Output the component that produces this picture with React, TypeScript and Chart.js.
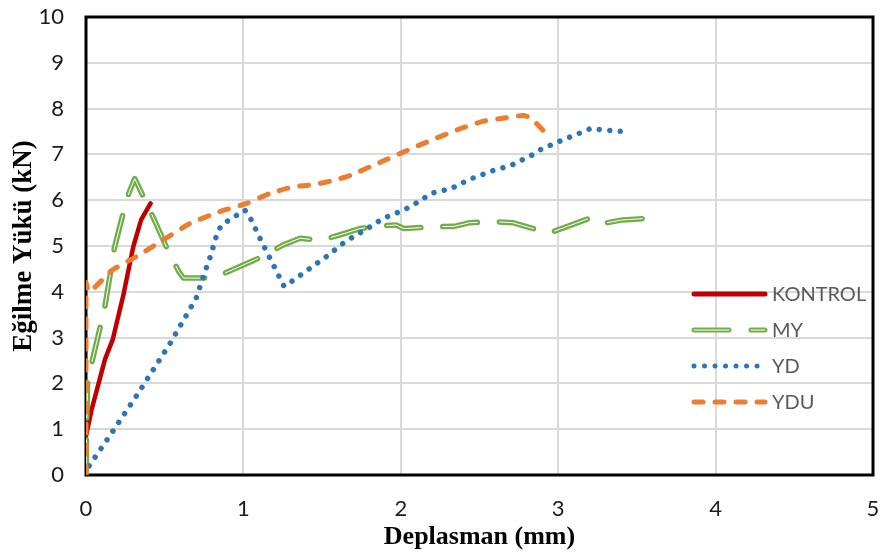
import React, { useEffect, useRef } from "react";
import { Chart, registerables } from "chart.js";

Chart.register(...registerables);

// ---- Data ----
const seriesNames = ["KONTROL", "MY", "YD", "YDU"];

const kontrolX = [0, 0.036, 0.08, 0.12, 0.17, 0.24, 0.3, 0.35, 0.41];
const kontrolY = [0.85, 1.43, 2.0, 2.52, 2.96, 3.97, 4.98, 5.57, 5.93];

const myX = [0, 0.005, 0.01, 0.03, 0.093, 0.12, 0.16, 0.18, 0.24, 0.275, 0.31, 0.375, 0.43, 0.53, 0.59, 0.62, 0.81, 0.93, 1.14, 1.25, 1.36, 1.49, 1.61, 1.74, 1.85, 1.97, 2.02, 2.22, 2.34, 2.44, 2.59, 2.71, 2.94, 3.06, 3.21, 3.28, 3.41, 3.55];
const myY = [0, 1.2, 2.0, 2.35, 3.27, 3.68, 4.51, 4.95, 5.77, 6.18, 6.47, 6.0, 5.6, 4.83, 4.44, 4.3, 4.3, 4.48, 4.8, 5.02, 5.17, 5.12, 5.24, 5.38, 5.43, 5.46, 5.38, 5.42, 5.43, 5.51, 5.53, 5.51, 5.28, 5.43, 5.62, 5.49, 5.57, 5.6];

const ydX = [0.02, 0.15, 0.34, 0.53, 0.7, 0.745, 0.79, 0.83, 0.86, 0.957, 1.01, 1.05, 1.105, 1.2, 1.258, 1.317, 1.43, 1.54, 1.645, 1.825, 1.885, 2.016, 2.13, 2.19, 2.317, 2.44, 2.58, 2.7, 2.83, 2.885, 3.01, 3.14, 3.21, 3.27, 3.41];
const ydY = [0.2, 0.85, 1.83, 2.85, 3.86, 4.33, 4.77, 5.24, 5.46, 5.67, 5.78, 5.57, 5.17, 4.52, 4.12, 4.25, 4.53, 4.8, 5.09, 5.46, 5.6, 5.78, 6.0, 6.15, 6.25, 6.46, 6.64, 6.76, 6.98, 7.1, 7.29, 7.47, 7.57, 7.54, 7.5];

const yduX = [0, 0, 0.02, 0.17, 0.32, 0.49, 0.66, 0.85, 1.02, 1.17, 1.317, 1.444, 1.57, 1.677, 1.825, 2.016, 2.186, 2.376, 2.52, 2.67, 2.78, 2.83, 2.93];
const yduY = [0, 4.2, 4.0, 4.48, 4.77, 5.13, 5.49, 5.75, 5.93, 6.15, 6.29, 6.34, 6.43, 6.54, 6.76, 7.05, 7.3, 7.56, 7.72, 7.8, 7.85, 7.78, 7.43];

const xMin = 0, xMax = 5, xStep = 1;
const yMin = 0, yMax = 10, yStep = 1;
const xTitle = "Deplasman (mm)";
const yTitle = "Eğilme Yükü (kN)";

const pts = (xs: number[], ys: number[]) => xs.map((x, i) => ({ x, y: ys[i] }));

const RED = "#c00000";
const GREEN = "#70ad47";
const BLUE = "#2e75b6";
const ORANGE = "#ed7d31";
const MY_DASH = [35, 22];
const YD_DASH = [0.01, 10.5];
const YDU_DASH = [9, 12];

const borderPlugin = {
  id: "plotBorder",
  beforeDatasetsDraw(chart: any) {
    const { ctx, chartArea: a } = chart;
    ctx.save();
    ctx.strokeStyle = "#000";
    ctx.lineWidth = 3;
    ctx.strokeRect(a.left, a.top, a.right - a.left, a.bottom - a.top);
    ctx.restore();
  },
};

const legendPlugin = {
  id: "insideLegend",
  afterDraw(chart: any) {
    const { ctx, chartArea: a } = chart;
    const x0 = a.right - 179;
    const x1 = a.right - 108;
    const tx = a.right - 101;
    const rows = [a.top + 277, a.top + 313, a.top + 349, a.top + 385];
    const styles = [
      { color: RED, dash: [] as number[], inner: false },
      { color: GREEN, dash: MY_DASH, inner: true },
      { color: BLUE, dash: YD_DASH, inner: false },
      { color: ORANGE, dash: YDU_DASH, inner: false },
    ];
    ctx.save();
    styles.forEach((s, i) => {
      const y = rows[i];
      ctx.beginPath();
      ctx.setLineDash(s.dash);
      ctx.lineCap = "round";
      ctx.strokeStyle = s.color;
      ctx.lineWidth = 5;
      ctx.moveTo(x0, y);
      ctx.lineTo(x1, y);
      ctx.stroke();
      if (s.inner) {
        ctx.beginPath();
        ctx.strokeStyle = "#ffffff";
        ctx.lineWidth = 1;
        ctx.moveTo(x0, y);
        ctx.lineTo(x1, y);
        ctx.stroke();
      }
      ctx.setLineDash([]);
      ctx.fillStyle = "#595959";
      ctx.font = "20px Lato";
      ctx.textBaseline = "middle";
      ctx.textAlign = "left";
      ctx.fillText(seriesNames[i], tx, y + 1);
    });
    ctx.restore();
  },
};

const zeroPad = (s: any) => {
  s.paddingTop = 0;
  s.paddingBottom = 0;
  s.paddingLeft = 0;
  s.paddingRight = 0;
};

export default function App() {
  const ref = useRef<HTMLCanvasElement | null>(null);

  useEffect(() => {
    if (!ref.current) return;
    const common = { showLine: true, pointRadius: 0, pointHoverRadius: 0, fill: false, tension: 0, borderCapStyle: "round", borderJoinStyle: "round" };
    const chart = new Chart(ref.current, {
      type: "scatter",
      data: {
        datasets: [
          { ...common, label: seriesNames[0], data: pts(kontrolX, kontrolY), borderColor: RED, backgroundColor: RED, borderWidth: 4.5, order: 10 } as any,
          { ...common, label: seriesNames[1], data: pts(myX, myY), borderColor: GREEN, backgroundColor: GREEN, borderWidth: 5.5, borderDash: MY_DASH, order: 9 } as any,
          { ...common, label: seriesNames[1] + "-inner", data: pts(myX, myY), borderColor: "#ffffff", backgroundColor: "#ffffff", borderWidth: 1, borderDash: MY_DASH, order: 8 } as any,
          { ...common, label: seriesNames[2], data: pts(ydX, ydY), borderColor: BLUE, backgroundColor: BLUE, borderWidth: 5.5, borderDash: YD_DASH, order: 7 } as any,
          { ...common, label: seriesNames[3], data: pts(yduX, yduY), borderColor: ORANGE, backgroundColor: ORANGE, borderWidth: 5, borderDash: YDU_DASH, order: 6, tension: 0.2 } as any,
        ],
      },
      options: {
        responsive: false,
        animation: false,
        devicePixelRatio: 1,
        layout: { padding: { top: 17, right: 7, left: 0, bottom: 0 }, autoPadding: false } as any,
        plugins: { legend: { display: false }, tooltip: { enabled: false } },
        scales: {
          x: {
            type: "linear",
            min: xMin,
            max: xMax,
            ticks: { stepSize: xStep, color: "#1a1a1a", font: { family: "Lato", size: 22 }, padding: 21 },
            grid: { color: "#d9d9d9", lineWidth: 2, drawTicks: false },
            border: { display: false },
            title: { display: true, text: xTitle, color: "#000", font: { family: "Liberation Serif", size: 26, weight: "bold", lineHeight: 1.2 }, padding: { top: 0, bottom: 0 } },
            afterFit: (s: any) => { s.height = 78; zeroPad(s); },
          },
          y: {
            type: "linear",
            min: yMin,
            max: yMax,
            ticks: { stepSize: yStep, color: "#1a1a1a", font: { family: "Lato", size: 22 }, padding: 22 },
            grid: { color: "#d9d9d9", lineWidth: 2, drawTicks: false },
            border: { display: false },
            title: { display: true, text: yTitle, color: "#000", font: { family: "Liberation Serif", size: 27, weight: "bold", lineHeight: 1.2 }, padding: { top: 8, bottom: 0 } },
            afterFit: (s: any) => { s.width = 86; zeroPad(s); },
          },
        },
      } as any,
      plugins: [borderPlugin, legendPlugin],
    });
    return () => chart.destroy();
  }, []);

  return (
    <div style={{ position: "fixed", left: 0, top: 0, width: 880, height: 553, background: "#fff" }}>
      <canvas ref={ref} width={880} height={553} style={{ width: 880, height: 553, display: "block" }} />
    </div>
  );
}
